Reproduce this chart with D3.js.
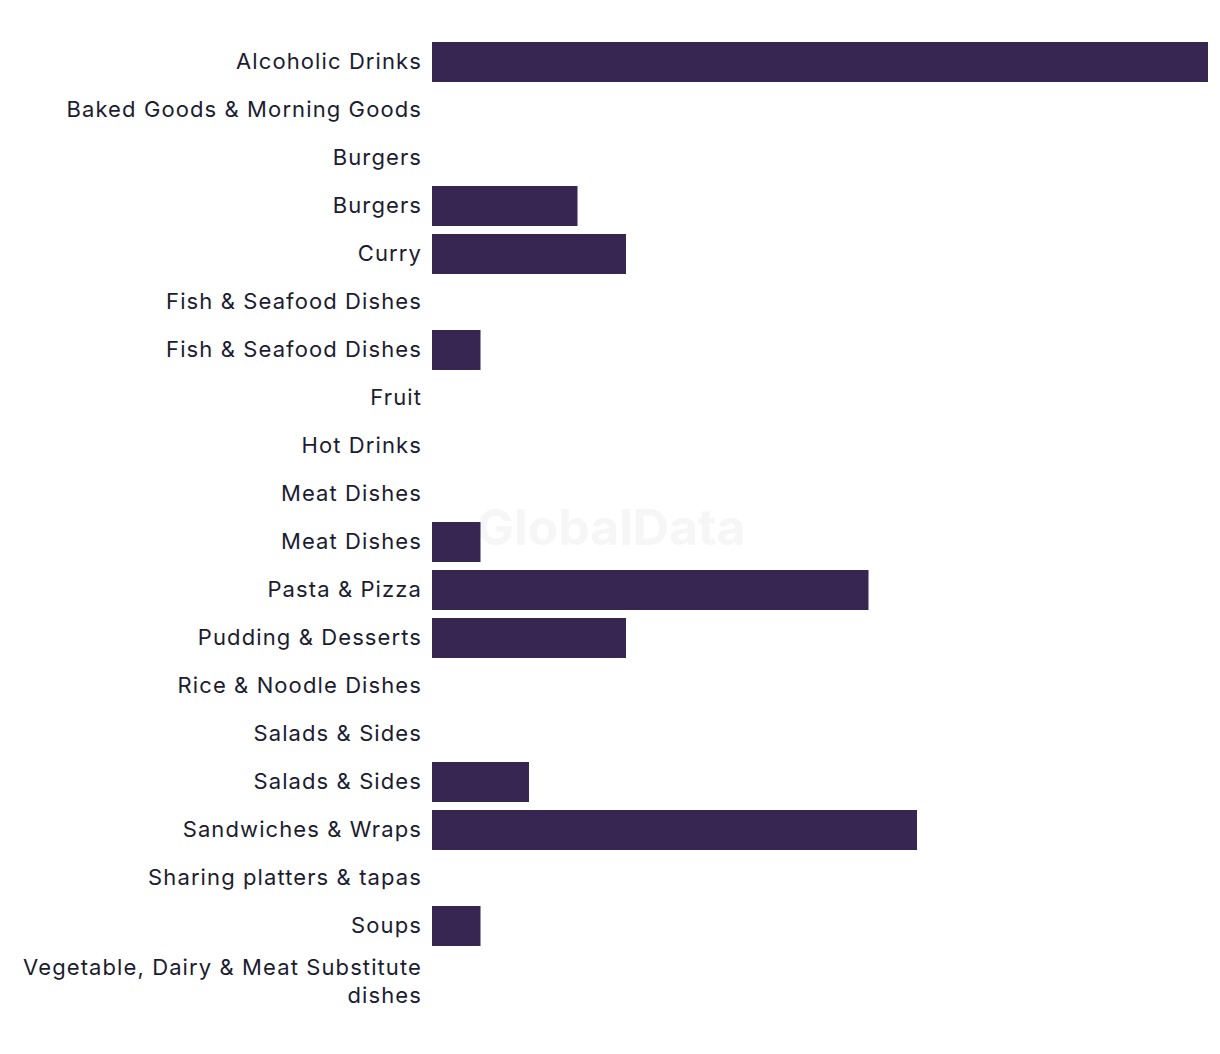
<!DOCTYPE html>
<html>
<head>
<meta charset="utf-8">
<script src="https://cdn.jsdelivr.net/npm/d3@7"></script>
<style>
  body { margin: 0; background: #fff; }
  text { font-family: Inter, Roboto, sans-serif; }
</style>
</head>
<body>
<div id="chart"></div>
<script>
// Data
var categories = ["Alcoholic Drinks", "Baked Goods & Morning Goods", "Burgers", "Burgers", "Curry",
    "Fish & Seafood Dishes", "Fish & Seafood Dishes", "Fruit", "Hot Drinks", "Meat Dishes",
    "Meat Dishes", "Pasta & Pizza", "Pudding & Desserts", "Rice & Noodle Dishes", "Salads & Sides",
    "Salads & Sides", "Sandwiches & Wraps", "Sharing platters & tapas", "Soups",
    "Vegetable, Dairy & Meat Substitute dishes"];
var values = [16, 0, 0, 3, 4, 0, 1, 0, 0, 0, 1, 9, 4, 0, 0, 2, 10, 0, 1, 0];

// Dimensions
var width = 1220, height = 1054;
var margin = { top: 38, right: 12, bottom: 56, left: 432 };

var svg = d3.select("#chart")
    .append("svg")
    .attr("width", width)
    .attr("height", height);

// Watermark
svg.append("text")
    .attr("x", 611)
    .attr("y", 545)
    .attr("text-anchor", "middle")
    .style("font-size", "50px")
    .style("font-weight", "bold")
    .style("fill", "#f6f6f6")
    .text("GlobalData");

var x = d3.scaleLinear()
    .domain([0, 16])
    .range([margin.left, width - margin.right]);

var y = d3.scaleBand()
    .domain(d3.range(categories.length))
    .range([margin.top, height - margin.bottom])
    .paddingInner(1 / 6)
    .paddingOuter(1 / 12);

// Bars
svg.selectAll("rect")
    .data(values)
    .enter()
    .append("rect")
    .attr("x", x(0))
    .attr("y", function (d, i) { return y(i); })
    .attr("width", function (d) { return x(d) - x(0); })
    .attr("height", y.bandwidth())
    .style("fill", "#372552");

// Y axis labels
var yAxis = svg.append("g")
    .attr("transform", "translate(" + margin.left + ",0)")
    .call(d3.axisLeft(y).tickSize(0).tickPadding(10).tickFormat(function (i) { return categories[i]; }));

yAxis.select(".domain").remove();
yAxis.selectAll("text")
    .style("font-size", "22px")
    .style("letter-spacing", "1.1px")
    .style("fill", "#1c1c30")
    .style("font-family", "Inter, Roboto, sans-serif");

// wrap the long last label onto two lines
yAxis.selectAll("text")
    .filter(function (i) { return categories[i].length > 30; })
    .each(function (i) {
        var t = d3.select(this);
        var words = categories[i].split(" ");
        var line2 = words.pop();
        t.text(null);
        t.append("tspan").attr("x", -10).attr("dy", "0.05em").text(words.join(" "));
        t.append("tspan").attr("x", -10).attr("dy", "1.27em").text(line2);
    });
</script>
</body>
</html>
